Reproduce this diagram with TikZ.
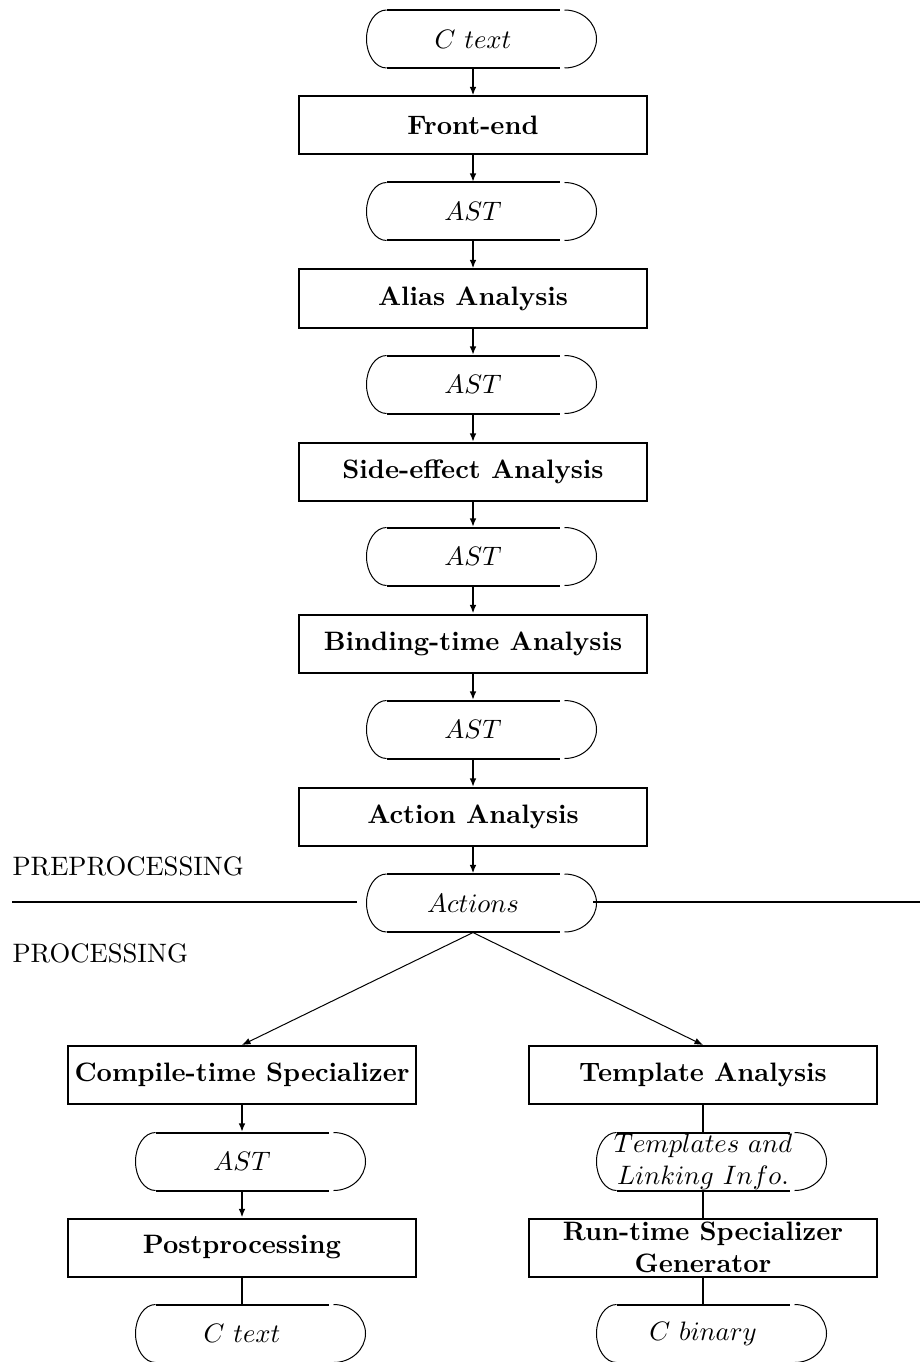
\documentclass[tikz,border=0pt]{standalone}
\usetikzlibrary{arrows.meta,calc}

\tikzset{
  proc/.style={draw, line width=0.75pt, inner sep=0pt, minimum width=130.5pt,
    minimum height=21.75pt, align=center, font=\bfseries},
  store/.style={inner sep=0pt, minimum width=64.9pt, minimum height=21.75pt, align=center},
  flow/.style={line width=0.75pt, -{Latex[length=3.2pt,width=2.5pt]}},
  link/.style={line width=0.75pt},
  split/.style={line width=0.375pt, -{Latex[length=3.2pt,width=2.5pt]}}
}

% thick top and bottom, thin round ends
\newcommand\storeframe[1]{%
  \draw[line width=0.75pt] ($(#1)+(-86.5,29)$) -- ($(#1)+(86.5,29)$);
  \draw[line width=0.75pt] ($(#1)+(-86.5,-29)$) -- ($(#1)+(86.5,-29)$);
  \draw[line width=0.375pt] ($(#1)+(-86.5,29)$) arc[start angle=90, end angle=270, x radius=7.5pt, y radius=10.875pt];
  \draw[line width=0.375pt] ($(#1)+(91.5,29)$) arc[start angle=90, end angle=-90, x radius=12pt, y radius=10.875pt];
}

\begin{document}
\begin{tikzpicture}[x=0.375pt, y=0.375pt]
  \useasboundingbox (0,0) rectangle (920,-1362);

  % preprocessing
  \node[store] (ctext) at (473,-39) {$C\ text$};
  \node[proc] (front) at (473,-125.5) {Front-end};
  \node[store] (ast1) at (473,-211.5) {$AST$};
  \node[proc] (alias) at (473,-298.5) {Alias Analysis};
  \node[store] (ast2) at (473,-384.5) {$AST$};
  \node[proc] (side) at (473,-472) {Side-effect Analysis};
  \node[store] (ast3) at (473,-556.5) {$AST$};
  \node[proc] (bta) at (473,-643.5) {Binding-time Analysis};
  \node[store] (ast4) at (473,-729.5) {$AST$};
  \node[proc] (action) at (473,-817) {Action Analysis};
  \node[store] (actions) at (473,-903) {$Actions$};

  \storeframe{ctext}
  \storeframe{ast1}
  \storeframe{ast2}
  \storeframe{ast3}
  \storeframe{ast4}
  \storeframe{actions}

  \draw[flow] (ctext) -- (front);
  \draw[flow] (front) -- (ast1);
  \draw[flow] (ast1) -- (alias);
  \draw[flow] (alias) -- (ast2);
  \draw[flow] (ast2) -- (side);
  \draw[flow] (side) -- (ast3);
  \draw[flow] (ast3) -- (bta);
  \draw[flow] (bta) -- (ast4);
  \draw[flow] (ast4) -- (action);
  \draw[flow] (action) -- (actions);

  % divider
  \node[anchor=base west, inner sep=0pt] (pre) at (12,-875) {PREPROCESSING};
  \node[anchor=base west, inner sep=0pt] (post) at (12,-962) {PROCESSING};
  \draw[line width=0.75pt] (12,-902) -- (357,-902);
  \draw[line width=0.75pt] (593,-902) -- (920,-902);

  % processing, compile-time side
  \node[proc] (cts) at (242,-1075) {Compile-time Specializer};
  \node[store] (ast5) at (242,-1161.5) {$AST$};
  \node[proc] (postp) at (242,-1247.5) {Postprocessing};
  \node[store] (cout) at (242,-1333.5) {$C\ text$};

  % processing, run-time side
  \node[proc] (templ) at (703,-1075) {Template Analysis};
  \node[store] (tinfo) at (703,-1161.5) {$Templates\ and$\\$Linking\ Info.$};
  \node[proc] (rtsg) at (703,-1247.5) {Run-time Specializer\\Generator};
  \node[store] (cbin) at (703,-1333.5) {$C\ binary$};

  \storeframe{ast5}
  \storeframe{cout}
  \storeframe{tinfo}
  \storeframe{cbin}

  \draw[split] (actions.south) -- (cts.north);
  \draw[split] (actions.south) -- (templ.north);
  \draw[flow] (cts) -- (ast5);
  \draw[flow] (ast5) -- (postp);
  \draw[link] (postp) -- (cout);
  \draw[link] (templ) -- (tinfo);
  \draw[link] (tinfo) -- (rtsg);
  \draw[link] (rtsg) -- (cbin);
\end{tikzpicture}
\end{document}
